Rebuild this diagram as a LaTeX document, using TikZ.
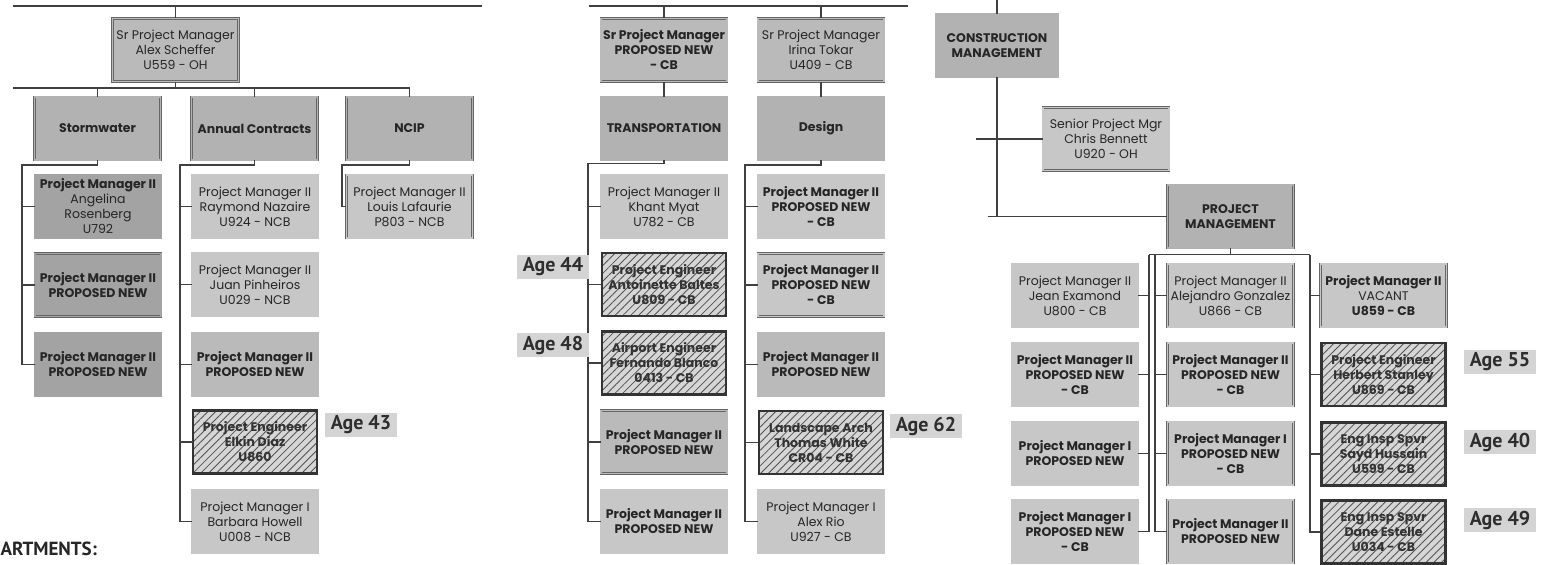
\documentclass[tikz,border=0pt]{standalone}
\usepackage{fontspec}
\setmainfont{Poppins}
\newfontfamily\agefont{PT Sans}
\usetikzlibrary{patterns.meta}
\newcommand\bxfont{\fontsize{12.5}{15}\selectfont}
\tikzset{
  conn/.style={draw=black!75, line width=1.3pt},
  boxbase/.style={rectangle, minimum width=126pt, minimum height=63pt, inner sep=0pt,
    align=center, text=black!85, line width=0.5pt, double distance=1.8pt,
    draw=black!60, font=\bxfont},
  bx/.style={boxbase, fill=#1, double=#1},
  hdr/.style={bx=black!30, font=\bxfont\bfseries},
  mid/.style={bx=black!27},
  midb/.style={bx=black!27, font=\bxfont\bfseries},
  dark/.style={bx=black!36},
  darkb/.style={bx=black!36, font=\bxfont\bfseries},
  lite/.style={bx=black!22},
  liteb/.style={bx=black!22, font=\bxfont\bfseries},
  hatchbox/.style={rectangle, minimum width=124pt, minimum height=63pt, inner sep=0pt,
    align=center, text=black!80, draw=black!80, line width=2.2pt,
    preaction={fill=black!16},
    pattern={Lines[angle=45,distance=5.5pt,line width=0.85pt]}, pattern color=black!68,
    font=\bxfont\bfseries},
  agelbl/.style={fill=black!17, inner xsep=6pt, inner ysep=3pt, text=black!82,
    font=\agefont\bfseries\fontsize{20}{20}\selectfont},
}
\begin{document}
\begin{tikzpicture}[x=1pt,y=-1pt]
\useasboundingbox (0,0) rectangle (1559,565);
\clip (0,0) rectangle (1559,565);
\fill[white] (0,0) rectangle (1559,565);

%================ LEFT SECTION =================
\coordinate (tl1) at (13,6);
\coordinate (tr1) at (482,6);
\draw[conn] (tl1) -- (tr1);
\node[mid] (alex) at (175.5,50) {Sr Project Manager\\Alex Scheffer\\U559 - OH};
\draw[conn] (alex.north) -- (alex.north |- tl1);
\coordinate (bl1) at (13,88);
\coordinate (br1) at (409.5,88);
\draw[conn] (alex.south) -- (alex.south |- bl1);
\draw[conn] (bl1) -- (br1);
\node[hdr] (storm) at (97.5,128.5) {Stormwater};
\node[hdr] (annual) at (254.5,128.5) {Annual Contracts};
\node[hdr] (ncip) at (409.5,128.5) {NCIP};
\foreach \n in {storm,annual,ncip} \draw[conn] (\n.north) -- (\n.north |- bl1);

% Stormwater children
\node[dark] (sw1) at (98,206.5) {\textbf{Project Manager II}\\Angelina\\Rosenberg\\U792};
\node[darkb] (sw2) at (98,285) {Project Manager II\\PROPOSED NEW};
\node[darkb] (sw3) at (98,364.5) {Project Manager II\\PROPOSED NEW};
\coordinate (swv) at (22,165);
\draw[conn] (storm.south) -- (storm.south |- swv) -- (swv) -- (swv |- sw3.west) -- (sw3.west);
\foreach \n in {sw1,sw2} \draw[conn] (swv |- \n.west) -- (\n.west);

% Annual Contracts children
\node[lite] (ac1) at (255,206.5) {Project Manager II\\Raymond Nazaire\\U924 - NCB};
\node[lite] (ac2) at (255,284.5) {Project Manager II\\Juan Pinheiros\\U029 - NCB};
\node[midb] (ac3) at (255,364.5) {Project Manager II\\PROPOSED NEW};
\node[hatchbox] (ac4) at (255,442) {Project Engineer\\Elkin Diaz\\U860};
\node[lite] (ac5) at (255,521.5) {Project Manager I\\Barbara Howell\\U008 - NCB};
\coordinate (acv) at (180,165);
\draw[conn] (annual.south) -- (annual.south |- acv) -- (acv) -- (acv |- ac5.west) -- (ac5.west);
\foreach \n in {ac1,ac2,ac3,ac4} \draw[conn] (acv |- \n.west) -- (\n.west);
\node[agelbl] (age43) at (361,425) {Age 43};

% NCIP child
\node[lite] (nc1) at (409.5,206.5) {Project Manager II\\Louis Lafaurie\\P803 - NCB};
\coordinate (ncv) at (342,165);
\draw[conn] (ncip.south) -- (ncip.south |- ncv) -- (ncv) -- (ncv |- nc1.west) -- (nc1.west);

\node[anchor=west, text=black!85, font=\agefont\bfseries\fontsize{19}{19}\selectfont] (dept) at (-3,549) {ARTMENTS:};

%================ MIDDLE SECTION =================
\coordinate (tl2) at (589,6);
\coordinate (tr2) at (908,6);
\draw[conn] (tl2) -- (tr2);
\node[midb] (sr2) at (664,50) {Sr Project Manager\\PROPOSED NEW\\- CB};
\node[mid] (sr3) at (821,50) {Sr Project Manager\\Irina Tokar\\U409 - CB};
\foreach \n in {sr2,sr3} \draw[conn] (\n.north) -- (\n.north |- tl2);
\node[hdr] (trans) at (664,128.5) {TRANSPORTATION};
\node[hdr] (design) at (821,128.5) {Design};
\draw[conn] (sr2.south) -- (trans.north);
\draw[conn] (sr3.south) -- (design.north);

% Transportation children
\node[lite] (tr1n) at (664,206.5) {Project Manager II\\Khant Myat\\U782 - CB};
\node[hatchbox] (tr2n) at (664,284.5) {Project Engineer\\Antoinette Baltes\\U809 - CB};
\node[hatchbox] (tr3n) at (664,363) {Airport Engineer\\Fernando Blanco\\0413 - CB};
\node[midb] (tr4n) at (664,442) {Project Manager II\\PROPOSED NEW};
\node[liteb] (tr5n) at (664,521.5) {Project Manager II\\PROPOSED NEW};
\coordinate (trv) at (588,163.5);
\draw[conn] (trans.south) -- (trans.south |- trv) -- (trv) -- (trv |- tr5n.west) -- (tr5n.west);
\foreach \n in {tr1n,tr2n,tr3n,tr4n} \draw[conn] (trv |- \n.west) -- (\n.west);
\node[agelbl] (age44) at (553,267) {Age 44};
\node[agelbl] (age48) at (553,345) {Age 48};

% Design children
\node[liteb] (dg1) at (821,206.5) {Project Manager II\\PROPOSED NEW\\- CB};
\node[liteb] (dg2) at (821,285) {Project Manager II\\PROPOSED NEW\\- CB};
\node[midb] (dg3) at (821,364.5) {Project Manager II\\PROPOSED NEW};
\node[hatchbox] (dg4) at (821,442.5) {Landscape Arch\\Thomas White\\CR04 - CB};
\node[lite] (dg5) at (821,521.5) {Project Manager I\\Alex Rio\\U927 - CB};
\coordinate (dgv) at (745,165);
\draw[conn] (design.south) -- (design.south |- dgv) -- (dgv) -- (dgv |- dg5.west) -- (dg5.west);
\foreach \n in {dg1,dg2,dg3,dg4} \draw[conn] (dgv |- \n.west) -- (\n.west);
\node[agelbl] (age62) at (926,426) {Age 62};

%================ RIGHT SECTION =================
\coordinate (ctop) at (997,-2);
\node[hdr, minimum width=122pt] (cm) at (997,45.5) {CONSTRUCTION\\MANAGEMENT};
\draw[conn] (cm.north) -- (ctop);
\coordinate (cmv) at (997,216.5);
\draw[conn] (cm.south) -- (cmv);
\node[lite] (chris) at (1106,139) {Senior Project Mgr\\Chris Bennett\\U920 - OH};
\coordinate (chl) at (976,139);
\draw[conn] (chl) -- (chris.west);
\node[hdr] (pm) at (1230.5,216.5) {PROJECT\\MANAGEMENT};
\coordinate (pml) at (988,216.5);
\draw[conn] (pml) -- (pm.west);
\coordinate (b3l) at (1149,254.5);
\coordinate (b3m) at (1155,254.5);
\coordinate (b3r) at (1310,254.5);
\draw[conn] (pm.south) -- (pm.south |- b3l);
\draw[conn] (b3l) -- (b3r);

\node[lite] (L1) at (1075,295.5) {Project Manager II\\Jean Examond\\U800 - CB};
\node[liteb] (L2) at (1075,374.5) {Project Manager II\\PROPOSED NEW\\- CB};
\node[liteb] (L3) at (1075,453.5) {Project Manager I\\PROPOSED NEW};
\node[liteb] (L4) at (1075,531.5) {Project Manager I\\PROPOSED NEW\\- CB};
\draw[conn] (b3l) -- (b3l |- L4.east) -- (L4.east);
\foreach \n in {L1,L2,L3} \draw[conn] (b3l |- \n.east) -- (\n.east);

\node[lite] (M1) at (1230.5,295.5) {Project Manager II\\Alejandro Gonzalez\\U866 - CB};
\node[liteb] (M2) at (1230.5,374.5) {Project Manager II\\PROPOSED NEW\\- CB};
\node[liteb] (M3) at (1230.5,453.5) {Project Manager I\\PROPOSED NEW\\- CB};
\node[liteb] (M4) at (1230.5,531.5) {Project Manager II\\PROPOSED NEW};
\draw[conn] (b3m) -- (b3m |- M4.west) -- (M4.west);
\foreach \n in {M1,M2,M3} \draw[conn] (b3m |- \n.west) -- (\n.west);

\node[lite] (R1) at (1383.5,295.5) {\textbf{Project Manager II}\\VACANT\\\textbf{U859 - CB}};
\node[hatchbox] (R2) at (1383.5,374.5) {Project Engineer\\Herbert Stanley\\U869 - CB};
\node[hatchbox] (R3) at (1383.5,454) {Eng Insp Spvr\\Sayd Hussain\\U599 - CB};
\node[hatchbox] (R4) at (1383.5,532) {Eng Insp Spvr\\Dane Estelle\\U034 - CB};
\draw[conn] (b3r) -- (b3r |- R4.west) -- (R4.west);
\foreach \n in {R1,R2,R3} \draw[conn] (b3r |- \n.west) -- (\n.west);
\node[agelbl] (age55) at (1500,362) {Age 55};
\node[agelbl] (age40) at (1500,442) {Age 40};
\node[agelbl] (age49) at (1500,520) {Age 49};
\end{tikzpicture}
\end{document}
